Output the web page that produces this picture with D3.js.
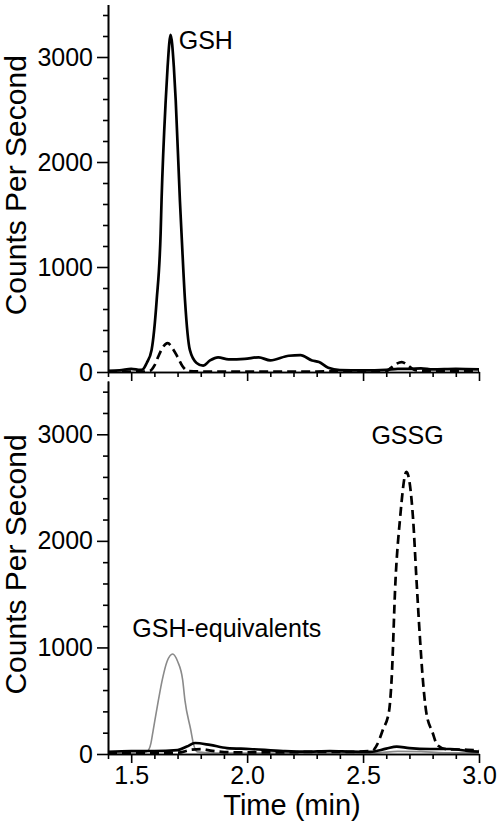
<!DOCTYPE html>
<html>
<head>
<meta charset="utf-8">
<title>GSH / GSSG chromatograms</title>
<script src="https://cdn.jsdelivr.net/npm/d3@7/dist/d3.min.js"></script>
<style>
  body { margin: 0; background: #fff; }
  svg text { font-family: "Liberation Sans", Arial, sans-serif; fill: #000; }
  .axis path, .axis line { stroke: #000; stroke-width: 1.6px; }
  .axis text { font-size: 25px; }
</style>
</head>
<body>
<script>
// time (min), counts per second
var topSolid = [
  [1.40, 12], [1.45, 15], [1.50, 30], [1.54, 20], [1.55, 25], [1.567, 86], [1.588, 210],
  [1.61, 686], [1.627, 1324], [1.631, 1638], [1.649, 2590], [1.657, 2905], [1.670, 3210],
  [1.684, 2905], [1.692, 2590], [1.71, 1638], [1.717, 1324], [1.732, 686], [1.753, 210],
  [1.782, 86], [1.81, 60], [1.84, 110], [1.875, 140], [1.92, 120], [1.99, 125],
  [2.05, 140], [2.10, 110], [2.18, 155], [2.23, 160], [2.28, 110], [2.31, 95],
  [2.35, 40], [2.40, 18], [2.50, 15], [2.60, 20], [2.65, 30], [2.70, 30], [2.75, 35],
  [2.80, 25], [2.90, 30], [3.00, 25]
];
var topDashed = [
  [1.40, 3], [1.55, 3], [1.58, 10], [1.60, 60], [1.616, 143], [1.635, 230], [1.657, 275],
  [1.68, 220], [1.70, 143], [1.72, 60], [1.745, 10], [1.80, 5], [2.00, 5], [2.30, 5],
  [2.60, 8], [2.62, 40], [2.645, 80], [2.667, 95], [2.69, 70], [2.71, 35], [2.73, 15],
  [2.80, 10], [3.00, 10]
];
var botGray = [
  [1.40, 10], [1.55, 10], [1.57, 25], [1.585, 100], [1.595, 225], [1.617, 500], [1.634, 695],
  [1.655, 870], [1.679, 939], [1.70, 870], [1.722, 695], [1.732, 500], [1.757, 225],
  [1.768, 100], [1.785, 20], [1.85, 10], [2.20, 10], [2.55, 10], [2.65, 25], [2.75, 22],
  [2.85, 12], [3.00, 10]
];
var botSolid = [
  [1.40, 20], [1.50, 28], [1.60, 28], [1.70, 37], [1.74, 70], [1.775, 103], [1.84, 85],
  [1.913, 56], [2.01, 47], [2.155, 28], [2.25, 22], [2.357, 28], [2.45, 22], [2.53, 20],
  [2.60, 50], [2.645, 70], [2.70, 55], [2.79, 47], [2.875, 47], [2.95, 30], [3.00, 22]
];
var botDashed = [
  [1.40, 10], [1.70, 12], [1.76, 40], [1.80, 45], [1.85, 30], [1.95, 15], [2.10, 15],
  [2.30, 20], [2.45, 20], [2.54, 30], [2.56, 85], [2.585, 225], [2.612, 400],
  [2.623, 695], [2.64, 1634], [2.659, 2197], [2.687, 2648], [2.716, 2197], [2.73, 1650],
  [2.745, 1100], [2.758, 695], [2.772, 400], [2.80, 200], [2.82, 85], [2.86, 45],
  [2.95, 40], [3.00, 35]
];
var xMajor = [1.5, 2.0, 2.5, 3.0];
var xMinor = [1.4, 1.6, 1.7, 1.8, 1.9, 2.1, 2.2, 2.3, 2.4, 2.6, 2.7, 2.8, 2.9];
var yMajor = [0, 1000, 2000, 3000];
var yMinor = [200, 400, 600, 800, 1200, 1400, 1600, 1800, 2200, 2400, 2600, 2800, 3200, 3400];

var width = 500, height = 835;
var svg = d3.select("body").append("svg")
  .attr("width", width).attr("height", height);

var x = d3.scaleLinear().domain([1.4, 3.0]).range([108, 479]);

var panels = [
  { top: 4.5, bottom: 372, series: [
      { data: topSolid, color: "#000", w: 2.7, dash: null },
      { data: topDashed, color: "#000", w: 2.7, dash: "9,5" } ],
    labels: [ { text: "GSH", t: 1.705, v: 3080 } ], xLabels: false },
  { top: 381, bottom: 754, series: [
      { data: botGray, color: "#8a8a8a", w: 1.6, dash: null },
      { data: botDashed, color: "#000", w: 2.7, dash: "9,5" },
      { data: botSolid, color: "#000", w: 2.7, dash: null } ],
    labels: [ { text: "GSSG", t: 2.536, v: 2905 },
              { text: "GSH-equivalents", t: 1.505, v: 1095 } ], xLabels: true }
];

panels.forEach(function(p) {
  var y = d3.scaleLinear().domain([0, 3500]).range([p.bottom, p.top]);
  var line = d3.line()
    .x(function(d) { return x(d[0]); })
    .y(function(d) { return y(d[1]); })
    .curve(d3.curveMonotoneX);

  p.series.forEach(function(s) {
    svg.append("path")
      .datum(s.data)
      .attr("fill", "none")
      .attr("stroke", s.color)
      .attr("stroke-width", s.w)
      .attr("stroke-linejoin", "round")
      .attr("stroke-dasharray", s.dash)
      .attr("d", line);
  });

  // y axis: minor then major ticks
  svg.append("g").attr("class", "axis")
    .attr("transform", "translate(108,0)")
    .call(d3.axisLeft(y).tickValues(yMinor).tickSize(5).tickSizeOuter(0).tickFormat(""));
  svg.append("g").attr("class", "axis")
    .attr("transform", "translate(108,0)")
    .call(d3.axisLeft(y).tickValues(yMajor).tickSize(11).tickSizeOuter(0).tickPadding(4)
      .tickFormat(d3.format("d")));

  // x axis
  svg.append("g").attr("class", "axis")
    .attr("transform", "translate(0," + p.bottom + ")")
    .call(d3.axisBottom(x).tickValues(xMinor).tickSize(5).tickSizeOuter(0).tickFormat(""));
  svg.append("g").attr("class", "axis")
    .attr("transform", "translate(0," + p.bottom + ")")
    .call(d3.axisBottom(x).tickValues(xMajor).tickSize(9).tickSizeOuter(0).tickPadding(3)
      .tickFormat(p.xLabels ? d3.format(".1f") : ""));

  svg.selectAll(".axis .domain").attr("stroke-width", 2);

  svg.append("text")
    .attr("transform", "translate(26," + ((p.top + p.bottom) / 2 - 3) + ") rotate(-90)")
    .attr("text-anchor", "middle")
    .style("font-size", "30px")
    .text("Counts Per Second");

  p.labels.forEach(function(l) {
    svg.append("text")
      .attr("x", x(l.t)).attr("y", y(l.v))
      .style("font-size", "25px")
      .text(l.text);
  });
});

svg.append("text")
  .attr("x", 292).attr("y", 815)
  .attr("text-anchor", "middle")
  .style("font-size", "29px")
  .text("Time (min)");
</script>
</body>
</html>
